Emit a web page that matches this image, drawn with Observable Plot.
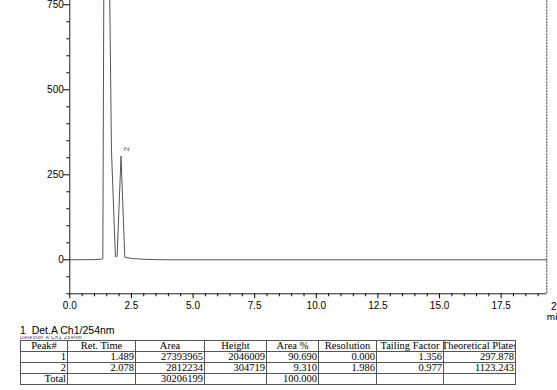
<!DOCTYPE html>
<html>
<head>
<meta charset="utf-8">
<script src="https://cdn.jsdelivr.net/npm/d3@7"></script>
<script src="https://cdn.jsdelivr.net/npm/@observablehq/plot@0.6"></script>
<style>
  html, body { margin: 0; padding: 0; background: #fff; overflow: hidden; }
  #wrap { position: relative; width: 557px; height: 390px; }
  #chart { position: absolute; left: 0; top: 0; }
  #cap { position: absolute; left: 20px; top: 325px; font: 10.5px "Liberation Sans", Arial, sans-serif; line-height: 10px; height: 10px; color: #000; white-space: pre; }
  #garble { position: absolute; left: 20px; top: 335.5px; height: 3px; overflow: hidden; font: 5px "Liberation Sans", Arial, sans-serif; line-height: 3px; color: #333; white-space: pre; letter-spacing: 0.6px; }
  table { position: absolute; left: 20px; top: 340px; border-collapse: collapse; table-layout: fixed; font: 10.5px "Liberation Serif", "Times New Roman", serif; color: #000; }
  td, th { border: 1px solid #555; padding: 0 1px; height: 10px; line-height: 10px; overflow: hidden; white-space: nowrap; font-weight: normal; }
  th { text-align: center; }
  td { text-align: right; }
  th div { display: flex; justify-content: center; white-space: nowrap; }
</style>
</head>
<body>
<div id="wrap">
  <div id="chart"></div>
  <div id="cap"></div>
  <div id="garble"></div>
  <table id="tbl"></table>
</div>
<script>
// ---- chromatogram data (time in min, signal) ----
const times  = [0, 1.00, 1.30, 1.34, 1.38, 1.489, 1.60, 1.69, 1.85, 1.88, 1.92, 2.078, 2.23, 2.50, 3.00, 3.50, 4.00, 19.35];
const signal = [0, 0.5,  2,    3,    800,  2046,  900,  322,  10,   9,    10,   305,   8,    4,    1.5,  0.5,  0,    0];

// ---- peak labels shown on the chart ----
const labelNames   = ["2"];
const labelTimes   = [2.078];
const labelHeights = [305];

// ---- axis ticks ----
const yMajor = [0, 250, 500, 750];
const yMinor = [-100, -50, 50, 100, 150, 200, 300, 350, 400, 450, 550, 600, 650, 700];
const xMajor = [0, 2.5, 5, 7.5, 10, 12.5, 15, 17.5];
const xMinor = [0.5,1,1.5,2,3,3.5,4,4.5,5.5,6,6.5,7,8,8.5,9,9.5,10.5,11,11.5,12,13,13.5,14,14.5,15.5,16,16.5,17,18,18.5,19];
const xEndLabel = ["20.0"];
const xUnit = ["min"];

// ---- results table ----
const caption = "1  Det.A Ch1/254nm";
const subCaption = "Detector A Ch1 254nm";
const headers   = ["Peak#", "Ret. Time", "Area", "Height", "Area %", "Resolution", "Tailing Factor", "Theoretical Plates"];
const peakIds   = ["1", "2"];
const retTimes  = ["1.489", "2.078"];
const areas     = ["27393965", "2812234"];
const heights   = ["2046009", "304719"];
const areaPct   = ["90.690", "9.310"];
const resolution= ["0.000", "1.986"];
const tailing   = ["1.356", "0.977"];
const plates    = ["297.878", "1123.243"];
const totalRow  = ["Total", "", "30206199", "", "100.000", "", "", ""];

const colWidths = [47, 68, 69, 62, 52, 58, 67, 72];

const series = times.map((t, i) => ({t, v: signal[i]}));
const labels = labelNames.map((n, i) => ({n, t: labelTimes[i], v: labelHeights[i]}));

const W = 557, H = 320, pxPerMin = 24.65, mL = 69.3, mB = 26.7;
const xMax = (W - mL) / pxPerMin;

const chart = Plot.plot({
  width: W, height: H,
  marginLeft: mL, marginRight: 0, marginTop: 0, marginBottom: mB,
  x: {domain: [0, xMax], axis: null},
  y: {domain: [-100, 762.6], axis: null},
  style: {fontFamily: '"Liberation Sans", Arial, sans-serif', fontSize: "10px", color: "#000", background: "#fff"},
  marks: [
    Plot.line(series, {x: "t", y: "v", stroke: "#555", strokeWidth: 1, clip: true}),
    Plot.ruleX([0], {y1: -100, y2: 762.6, stroke: "#222"}),
    Plot.ruleY([-100], {x1: 0, x2: 19.35, stroke: "#222"}),
    Plot.ruleX([19.35], {y1: -100, y2: 762.6, stroke: "#333", strokeDasharray: "2,1"}),
    Plot.axisY({ticks: yMajor, tickSize: 6, tickPadding: 0, tickFormat: d => String(d), label: null}),
    Plot.axisY({ticks: yMinor, tickSize: 3, tickFormat: () => "", label: null}),
    Plot.axisX({ticks: xMajor, tickSize: 5, tickPadding: 3, tickFormat: d3.format(".1f"), label: null}),
    Plot.axisX({ticks: xMinor, tickSize: 3, tickFormat: () => "", label: null}),
    Plot.text(xEndLabel, {x: 20, y: -100, dy: 13, dx: -2, text: d => d}),
    Plot.text(xUnit, {x: 20, y: -100, dy: 24, dx: -16, textAnchor: "start", text: d => d}),
    Plot.text(labels, {x: "t", y: "v", text: "n", rotate: -90, dx: 5, dy: -7, fontSize: 8, fill: "#333"})
  ]
});
document.getElementById("chart").appendChild(chart);

document.getElementById("cap").textContent = caption;
document.getElementById("garble").textContent = subCaption;

// build table
const tbl = document.getElementById("tbl");
const cg = document.createElement("colgroup");
colWidths.forEach(w => { const c = document.createElement("col"); c.style.width = w + "px"; cg.appendChild(c); });
tbl.appendChild(cg);
tbl.style.width = d3.sum(colWidths) + "px";
const hr = document.createElement("tr");
headers.forEach(h => { const th = document.createElement("th"); const dv = document.createElement("div"); dv.textContent = h; th.appendChild(dv); hr.appendChild(th); });
tbl.appendChild(hr);
peakIds.forEach((p, i) => {
  const tr = document.createElement("tr");
  [p, retTimes[i], areas[i], heights[i], areaPct[i], resolution[i], tailing[i], plates[i]].forEach(v => {
    const td = document.createElement("td"); td.textContent = v; tr.appendChild(td);
  });
  tbl.appendChild(tr);
});
const trT = document.createElement("tr");
totalRow.forEach(v => { const td = document.createElement("td"); td.textContent = v; trT.appendChild(td); });
tbl.appendChild(trT);
</script>
</body>
</html>
